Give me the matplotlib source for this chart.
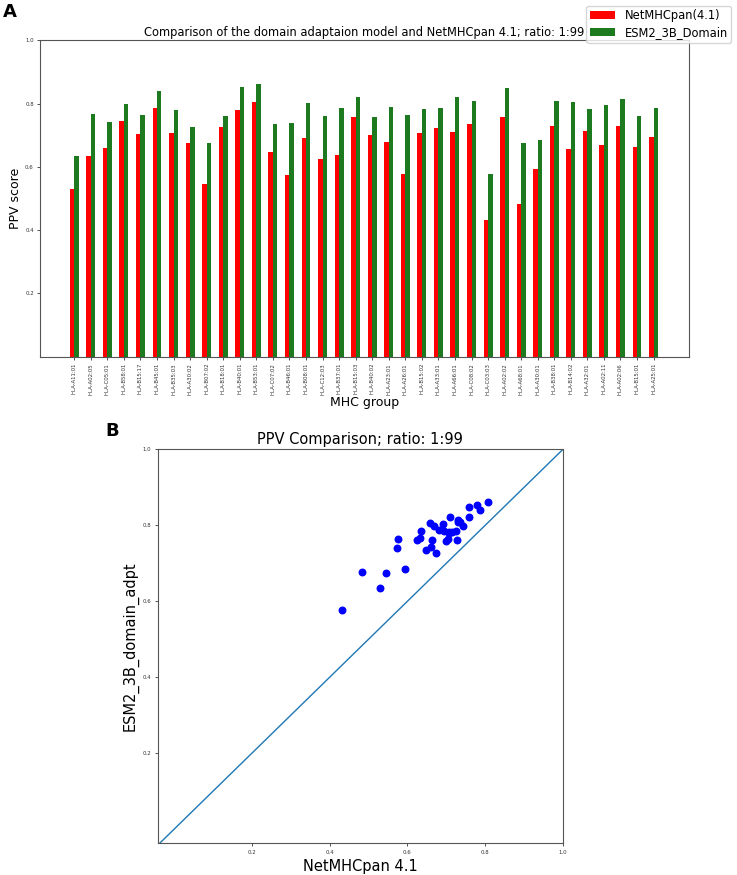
import matplotlib
matplotlib.use("Agg")
import matplotlib.pyplot as plt
import numpy as np

alleles = ["HLA-A11:01", "HLA-A02:05", "HLA-C05:01", "HLA-B58:01", "HLA-B15:17", "HLA-B45:01",
           "HLA-B35:03", "HLA-A30:02", "HLA-B07:02", "HLA-B18:01", "HLA-B40:01", "HLA-B53:01",
           "HLA-C07:02", "HLA-B46:01", "HLA-B08:01", "HLA-C12:03", "HLA-B37:01", "HLA-B15:03",
           "HLA-B40:02", "HLA-A23:01", "HLA-A26:01", "HLA-B15:02", "HLA-A33:01", "HLA-A66:01",
           "HLA-C08:02", "HLA-C03:03", "HLA-A02:02", "HLA-A68:01", "HLA-A30:01", "HLA-B38:01",
           "HLA-B14:02", "HLA-A32:01", "HLA-A02:11", "HLA-A02:06", "HLA-B15:01", "HLA-A25:01"]

netmhcpan = [0.529, 0.633, 0.660, 0.744, 0.704, 0.786, 0.706, 0.674, 0.546, 0.727, 0.780, 0.806,
             0.647, 0.574, 0.692, 0.624, 0.636, 0.759, 0.700, 0.680, 0.576, 0.707, 0.724, 0.709,
             0.736, 0.433, 0.759, 0.482, 0.593, 0.729, 0.657, 0.714, 0.668, 0.729, 0.662, 0.694]

esm2_domain = [0.634, 0.767, 0.742, 0.799, 0.763, 0.841, 0.779, 0.727, 0.674, 0.761, 0.853, 0.862,
               0.734, 0.740, 0.803, 0.761, 0.786, 0.822, 0.758, 0.788, 0.763, 0.782, 0.786, 0.821,
               0.809, 0.577, 0.848, 0.676, 0.685, 0.808, 0.806, 0.782, 0.797, 0.815, 0.760, 0.786]

ticks = [0.2, 0.4, 0.6, 0.8, 1.0]
tick_labels = ["0.2", "0.4", "0.6", "0.8", "1.0"]

W, H = 737, 875
fig = plt.figure(figsize=(W / 100, H / 100), dpi=100)

spine_col = "#555555"
tick_fs = 3.9

# ---------- Panel A ----------
axA = fig.add_axes([40 / W, 1 - 356.7 / H, (689 - 40) / W, (356.7 - 40.3) / H])
x = np.arange(len(alleles))
w = 0.27
axA.bar(x - w / 2, netmhcpan, width=w, color="red", label="NetMHCpan(4.1)")
axA.bar(x + w / 2, esm2_domain, width=w, color="#1e7a1e", label="ESM2_3B_Domain")
axA.set_xlim(-2.07, 37.14)
axA.set_ylim(0, 1.0)
axA.set_yticks(ticks)
axA.set_yticklabels(tick_labels, fontsize=tick_fs)
axA.set_xticks(x)
axA.set_xticklabels(alleles, rotation=90, fontsize=tick_fs)
axA.tick_params(length=2.5, width=0.6, colors="#333333", pad=2)
axA.set_ylabel("PPV score", fontsize=9, labelpad=2)
axA.set_xlabel("MHC group", fontsize=9, labelpad=1)
axA.set_title("Comparison of the domain adaptaion model and NetMHCpan 4.1; ratio: 1:99",
              fontsize=8.3, pad=3)
for s in axA.spines.values():
    s.set_color(spine_col)
    s.set_linewidth(0.8)
fig.legend(loc="upper right", bbox_to_anchor=(1.0, 1.0), fontsize=8.3,
           handlelength=2.2, borderpad=0.3, labelspacing=0.35, handletextpad=0.8)

fig.text(3 / W, 1 - 3 / H, "A", fontsize=13, fontweight="bold", va="top", ha="left")

# ---------- Panel B ----------
axB = fig.add_axes([157.7 / W, 1 - 843.3 / H, (563 - 157.7) / W, (843.3 - 449.3) / H])
axB.scatter(netmhcpan, esm2_domain, s=22, color="blue", zorder=3)
axB.plot([-0.04, 1.0], [-0.04, 1.0], color="#1f77b4", linewidth=1.0)
axB.set_xlim(-0.042, 1.0)
axB.set_ylim(-0.037, 1.0)
axB.set_xticks(ticks)
axB.set_xticklabels(tick_labels, fontsize=tick_fs)
axB.set_yticks(ticks)
axB.set_yticklabels(tick_labels, fontsize=tick_fs)
axB.tick_params(length=2.5, width=0.6, colors="#333333", pad=2)
axB.set_xlabel("NetMHCpan 4.1", fontsize=10.5, labelpad=3)
axB.set_ylabel("ESM2_3B_domain_adpt", fontsize=10.5, labelpad=3)
axB.set_title("PPV Comparison; ratio: 1:99", fontsize=10.5, pad=4)
for s in axB.spines.values():
    s.set_color(spine_col)
    s.set_linewidth(0.8)

fig.text(105 / W, 1 - 422 / H, "B", fontsize=13, fontweight="bold", va="top", ha="left")

fig.savefig("out.png", dpi=100)
